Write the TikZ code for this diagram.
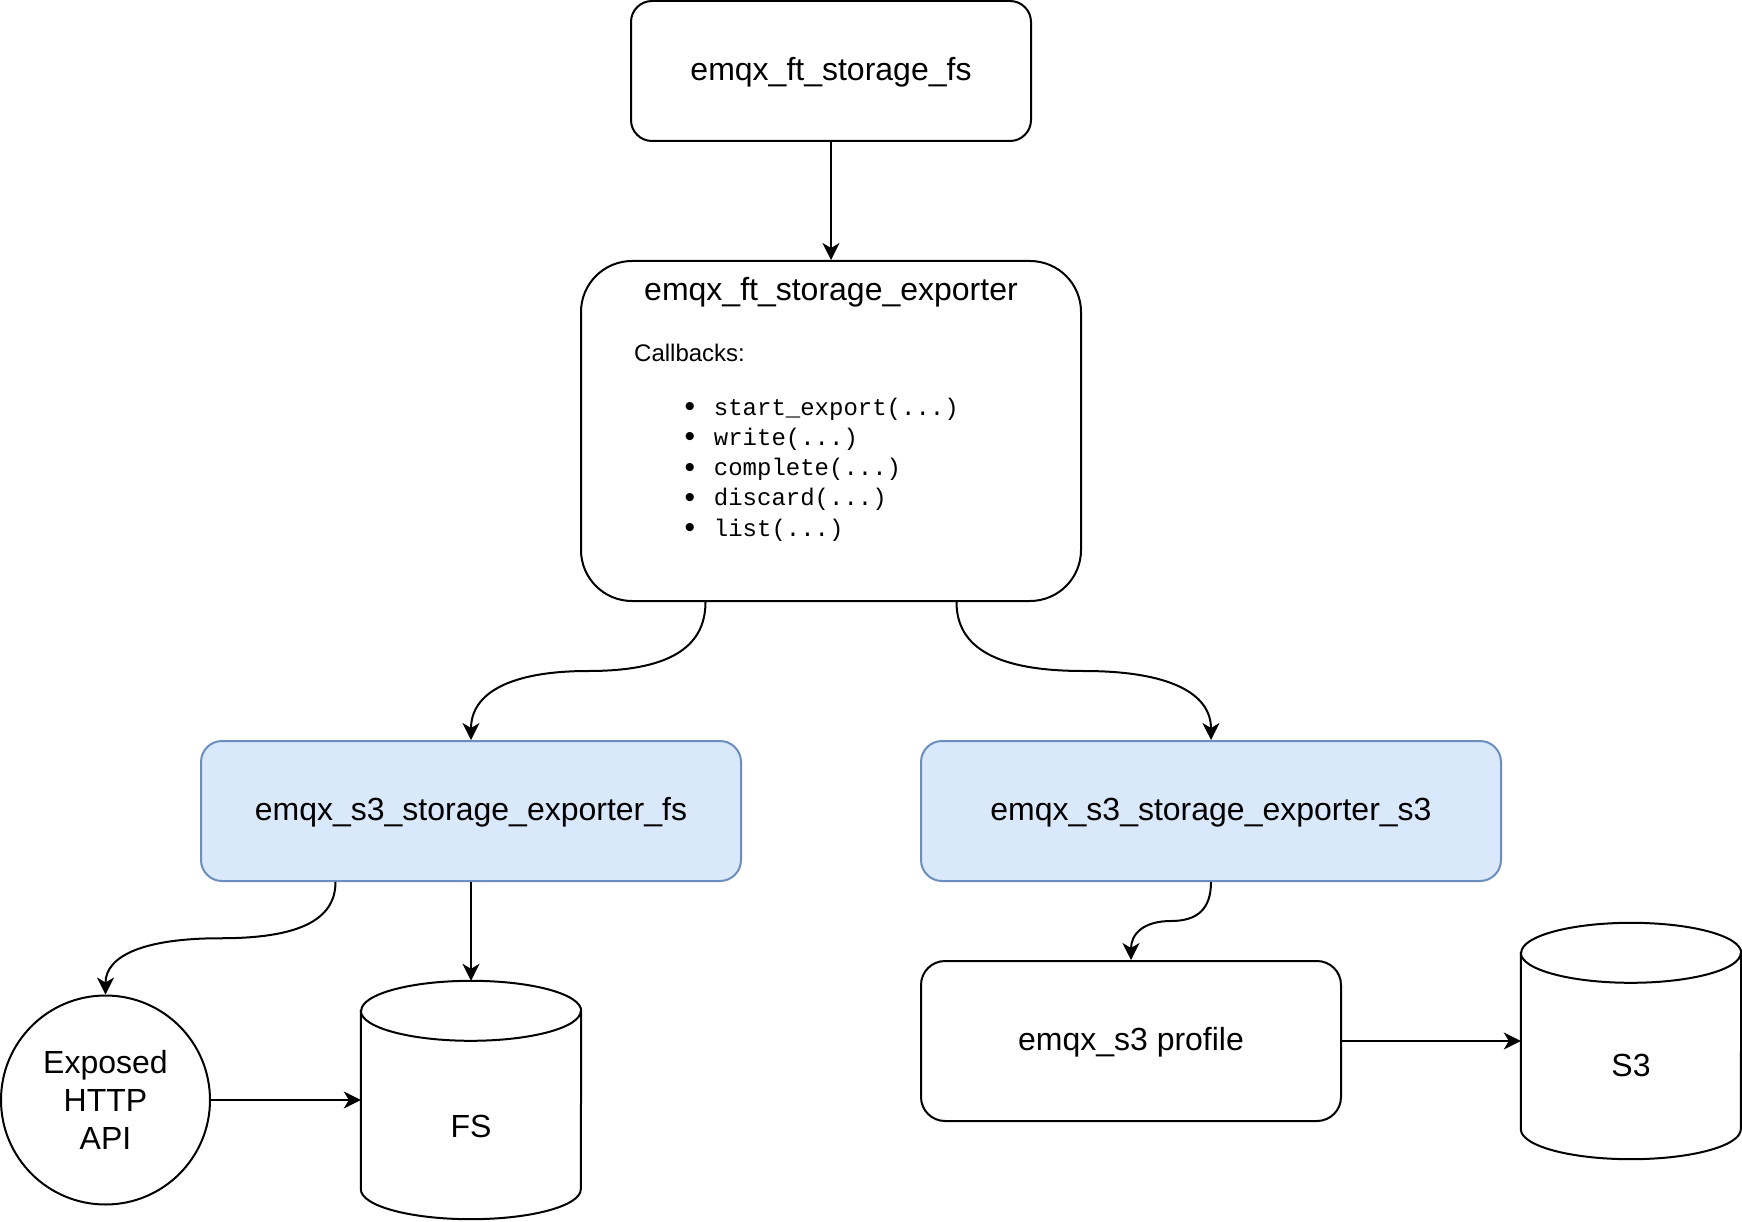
\documentclass[tikz,border=0pt]{standalone}
\usepackage{fontspec}
\setmainfont{Liberation Sans}
\setmonofont{Liberation Mono}
\usetikzlibrary{arrows.meta,calc}
\definecolor{bluefill}{HTML}{DAE8FC}
\definecolor{blueline}{HTML}{6C8EBF}
\newcommand{\bulletmark}{\makebox[29.2pt][l]{\raisebox{-1.5pt}{\fontsize{30}{30}\selectfont •}}}
\begin{document}
\begin{tikzpicture}[x=1pt,y=-1pt,
  shp/.style={draw=black, line width=2pt, fill=white},
  box/.style={shp, rounded corners=21pt, inner sep=0pt,
    font=\fontsize{32}{38}\selectfont, text height=23pt, text depth=4pt},
  bluebox/.style={box, draw=blueline, fill=bluefill},
  cylbox/.style={draw=none, inner sep=0pt, minimum width=220pt},
  lbl/.style={inner sep=0pt, anchor=base, font=\fontsize{32}{38}\selectfont},
  small/.style={inner sep=0pt, anchor=base west, font=\fontsize{24}{30}\selectfont},
  conn/.style={line width=2pt, -{Stealth[length=17pt,width=17pt,inset=5pt]}},
]
\useasboundingbox (0,0) rectangle (1742,1222);

% boxes
\node[box, minimum width=400pt, minimum height=140pt] (top) at (831,71) {emqx\_ft\_storage\_fs};
\node[box, rounded corners=51pt, minimum width=500pt, minimum height=340pt] (exp) at (831,431) {};
\node[lbl] (exptitle) at (831,301) {emqx\_ft\_storage\_exporter};
\node[small] (cb) at (634,361) {Callbacks:};
\node[small] (li1) at (684.5,415) {\bulletmark\texttt{start\_export(...)}};
\node[small] (li2) at (684.5,445.3) {\bulletmark\texttt{write(...)}};
\node[small] (li3) at (684.5,475.6) {\bulletmark\texttt{complete(...)}};
\node[small] (li4) at (684.5,505.9) {\bulletmark\texttt{discard(...)}};
\node[small] (li5) at (684.5,536.2) {\bulletmark\texttt{list(...)}};

\node[bluebox, minimum width=540pt, minimum height=140pt] (lb) at (471,811) {emqx\_s3\_storage\_exporter\_fs};
\node[bluebox, minimum width=580pt, minimum height=140pt] (rb) at (1211,811) {emqx\_s3\_storage\_exporter\_s3};
\node[box, rounded corners=24pt, minimum width=420pt, minimum height=160pt] (prof) at (1131,1041) {emqx\_s3 profile};

\node[shp, circle, minimum size=209pt, inner sep=0pt, align=center,
  font=\fontsize{32}{37.8}\selectfont] (api) at (105.5,1100) {Exposed\\HTTP\\API};

% cylinders
\node[cylbox, minimum height=238pt] (fs) at (471,1100) {};
\draw[shp] ([yshift=-30pt]fs.north west) -- ([yshift=30pt]fs.south west)
  arc[start angle=180, end angle=360, x radius=110pt, y radius=30pt]
  -- ([yshift=-30pt]fs.north east)
  arc[start angle=0, end angle=180, x radius=110pt, y radius=30pt] -- cycle;
\draw[line width=2pt] ([yshift=-30pt]fs.north west)
  arc[start angle=180, end angle=360, x radius=110pt, y radius=30pt];
\node[lbl] (fstxt) at (471,1137) {FS};

\node[cylbox, minimum height=236pt] (s3) at (1631,1041) {};
\draw[shp] ([yshift=-30pt]s3.north west) -- ([yshift=30pt]s3.south west)
  arc[start angle=180, end angle=360, x radius=110pt, y radius=30pt]
  -- ([yshift=-30pt]s3.north east)
  arc[start angle=0, end angle=180, x radius=110pt, y radius=30pt] -- cycle;
\draw[line width=2pt] ([yshift=-30pt]s3.north west)
  arc[start angle=180, end angle=360, x radius=110pt, y radius=30pt];
\node[lbl] (s3txt) at (1631,1076.5) {S3};

% connectors
\draw[conn] (top.south) -- (exp.north);

\coordinate (e1) at ($(exp.south west)!0.25!(exp.south east)$);
\coordinate (e2) at ($(exp.south west)!0.75!(exp.south east)$);
\coordinate (m1) at ($(e1)!0.5!(lb.north)$);
\coordinate (m2) at ($(e2)!0.5!(rb.north)$);
\draw[conn] (e1) .. controls +(0,47) and +(78,0) .. (m1)
  .. controls +(-78,0) and +(0,-47) .. (lb.north);
\draw[conn] (e2) .. controls +(0,47) and +(-85,0) .. (m2)
  .. controls +(85,0) and +(0,-47) .. (rb.north);

\coordinate (l1) at ($(lb.south west)!0.25!(lb.south east)$);
\coordinate (m3) at ($(l1)!0.5!(api.north)$);
\draw[conn] (l1) .. controls +(0,38.7) and +(76.8,0) .. (m3)
  .. controls +(-76.8,0) and +(0,-38.7) .. (api.north);
\draw[conn] (lb.south) -- (fs.north);
\draw[conn] (api.east) -- (api.east -| fs.west);

\coordinate (m4) at ($(rb.south)!0.5!(prof.north)$);
\draw[conn] (rb.south) .. controls +(0,26.7) and +(26.7,0) .. (m4)
  .. controls +(-26.7,0) and +(0,-26.7) .. (prof.north);
\draw[conn] (prof.east) -- (s3.west);
\end{tikzpicture}
\end{document}
